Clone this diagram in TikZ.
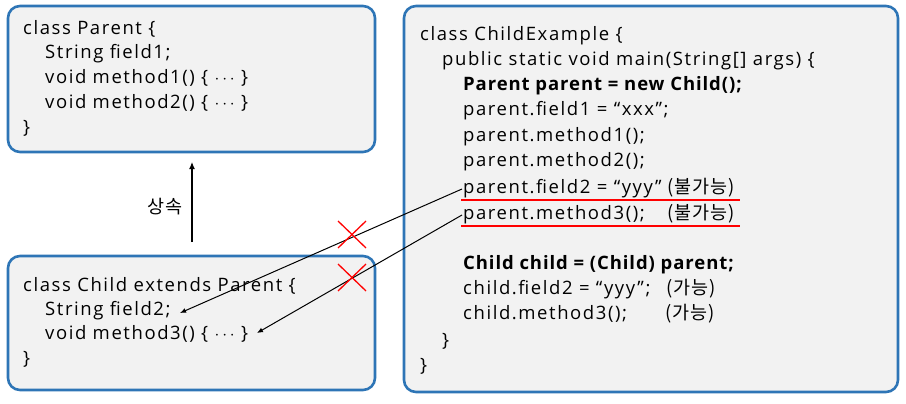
\documentclass[tikz,border=0pt]{standalone}
\usepackage{fontspec}
\setmainfont{Open Sans}[LetterSpace=8.5,BoldFeatures={LetterSpace=5}]
\newfontfamily\kr{Noto Sans CJK KR}[LetterSpace=5]
\usetikzlibrary{arrows.meta}
\definecolor{boxblue}{HTML}{2E75B6}
\definecolor{boxfill}{HTML}{F2F2F2}
\newcommand{\mydots}{ $\cdots$ }
\begin{document}
\begin{tikzpicture}[x=1pt,y=-1pt,
  panel/.style={draw=boxblue,fill=boxfill,line width=2.6pt,rounded corners=12pt},
  code/.style={anchor=base west,inner sep=0pt,font=\fontsize{18.5}{21}\selectfont},
  krtxt/.style={code,font=\kr\fontsize{18.5}{21}\selectfont},
  conn/.style={draw=black,line width=1.2pt,-{Latex[length=7pt,width=6pt]}},
  ptr/.style={draw=black,line width=1pt,-{Latex[length=6pt,width=5pt]}},
  redline/.style={draw=red,line width=1.5pt},
  cross/.style={draw=red,line width=1.3pt}]
\useasboundingbox (0,0) rectangle (906,404);
% panels
\draw[panel] (8,6) rectangle (375,152);
\draw[panel] (8,256) rectangle (375,390);
\draw[panel] (404,6) rectangle (898,392);
% Parent
\node[code] (p1) at (23,35) {class Parent \{};
\node[code] (p2) at (45,59) {String field1;};
\node[code] (p3) at (45,84) {void method1() \{\mydots\}};
\node[code] (p4) at (45,109) {void method2() \{\mydots\}};
\node[code] (p5) at (23,133) {\}};
% Child
\node[code] (c1) at (23,291) {class Child extends Parent \{};
\node[code] (c2) at (45,315) {String field2;};
\node[code] (c3) at (45,339) {void method3() \{\mydots\}};
\node[code] (c4) at (23,364) {\}};
% ChildExample
\node[code] (e1) at (420,41) {class ChildExample \{};
\node[code] (e2) at (442,66) {public static void main(String[] args) \{};
\node[code] (e3) at (463,91) {\bfseries Parent parent = new Child();};
\node[code] (e4) at (463,116) {parent.field1 = “xxx”;};
\node[code] (e5) at (463,141) {parent.method1();};
\node[code] (e6) at (463,166) {parent.method2();};
\node[code] (e7) at (463,193) {parent.field2 = “yyy”};
\node[krtxt] (k7) at (667,193) {(불가능)};
\node[code] (e8) at (463,219) {parent.method3();};
\node[krtxt] (k8) at (667,219) {(불가능)};
\node[code] (e9) at (463,269) {\bfseries Child child = (Child) parent;};
\node[code] (e10) at (463,294) {child.field2 = “yyy”;};
\node[krtxt] (k10) at (666,294) {(가능)};
\node[code] (e11) at (463,319) {child.method3();};
\node[krtxt] (k11) at (665,319) {(가능)};
\node[code] (e12) at (442,346) {\}};
\node[code] (e13) at (420,371) {\}};
% underlines
\draw[redline] (461,200) -- (740,200);
\draw[redline] (461,226) -- (740,226);
% inheritance
\coordinate (inhS) at (192,242);
\coordinate (inhE) at (192,162);
\draw[conn] (inhS) -- (inhE);
\node[font=\kr\fontsize{18.5}{21}\selectfont] (lbl) at (165,207) {상속};
% pointer arrows
\coordinate (a1s) at (462,189);
\coordinate (a1e) at (180,313);
\coordinate (a2s) at (462,215);
\coordinate (a2e) at (257,333);
\draw[ptr] (a1s) -- (a1e);
\draw[ptr] (a2s) -- (a2e);
% crosses
\draw[cross] (338,221) -- (366,248) (338,248) -- (366,221);
\draw[cross] (338,264) -- (366,291) (338,291) -- (366,264);
\end{tikzpicture}
\end{document}
